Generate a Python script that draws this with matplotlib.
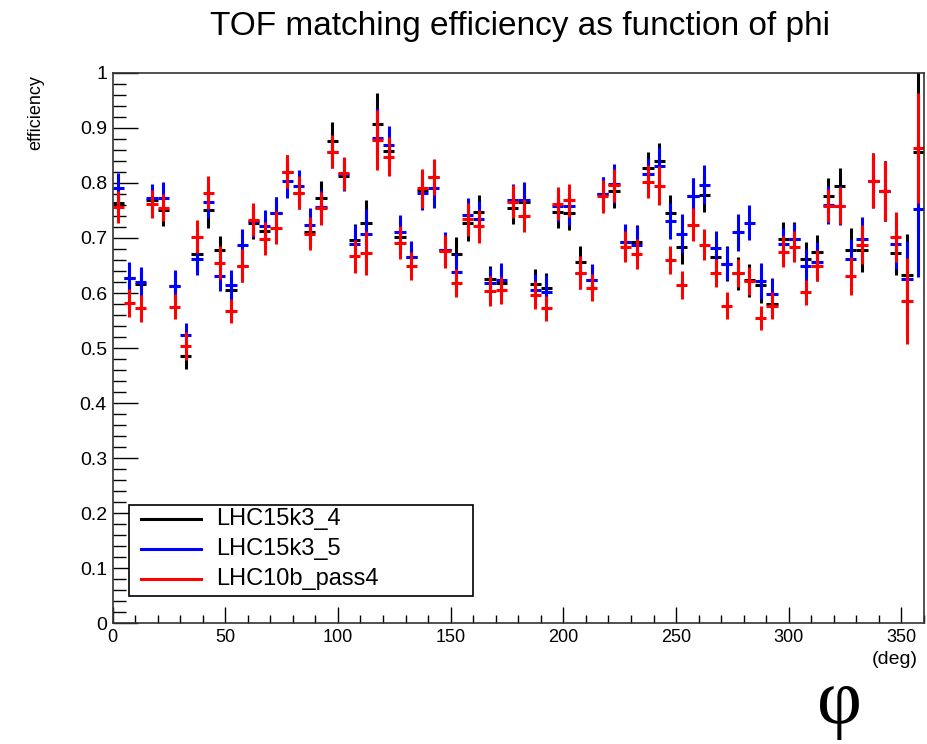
import matplotlib
matplotlib.use("Agg")
import matplotlib.pyplot as plt
import numpy as np
from matplotlib.ticker import MultipleLocator
from matplotlib.patches import Rectangle
from matplotlib.lines import Line2D

plt.rcParams['font.family'] = ['Liberation Sans', 'DejaVu Sans']

bin_edges = np.arange(0, 365, 5)
labels = ["LHC15k3_4", "LHC15k3_5", "LHC10b_pass4"]
colors = ["black", "blue", "red"]

eff_k3_4 = [0.764, 0.627, 0.616, 0.769, 0.751, 0.613, 0.485, 0.671, 0.750, 0.678,
            0.605, 0.650, 0.728, 0.713, 0.745, 0.820, 0.782, 0.711, 0.772, 0.877,
            0.813, 0.696, 0.727, 0.907, 0.859, 0.702, 0.666, 0.788, 0.811, 0.679,
            0.670, 0.727, 0.747, 0.625, 0.619, 0.755, 0.765, 0.616, 0.610, 0.748,
            0.745, 0.657, 0.624, 0.780, 0.785, 0.693, 0.693, 0.827, 0.840, 0.745,
            0.683, 0.776, 0.779, 0.665, 0.653, 0.636, 0.623, 0.615, 0.580, 0.699,
            0.699, 0.662, 0.675, 0.776, 0.794, 0.678, 0.678, 0.804, 0.785, 0.673,
            0.633, 0.856]
eff_k3_5 = [0.790, 0.627, 0.620, 0.773, 0.772, 0.613, 0.523, 0.662, 0.766, 0.631,
            0.614, 0.687, 0.731, 0.721, 0.745, 0.804, 0.794, 0.724, 0.757, 0.857,
            0.816, 0.689, 0.708, 0.882, 0.869, 0.710, 0.666, 0.781, 0.790, 0.679,
            0.639, 0.742, 0.734, 0.618, 0.624, 0.769, 0.769, 0.605, 0.602, 0.759,
            0.759, 0.637, 0.624, 0.780, 0.799, 0.693, 0.687, 0.816, 0.830, 0.731,
            0.708, 0.776, 0.797, 0.681, 0.653, 0.710, 0.728, 0.622, 0.599, 0.689,
            0.698, 0.650, 0.657, 0.760, 0.759, 0.662, 0.699, 0.804, 0.785, 0.689,
            0.625, 0.753]
eff_10b = [0.757, 0.582, 0.572, 0.762, 0.755, 0.575, 0.504, 0.702, 0.782, 0.655,
           0.568, 0.650, 0.733, 0.699, 0.719, 0.820, 0.782, 0.708, 0.754, 0.857,
           0.818, 0.667, 0.673, 0.878, 0.848, 0.691, 0.649, 0.790, 0.811, 0.676,
           0.618, 0.734, 0.721, 0.604, 0.605, 0.766, 0.740, 0.596, 0.572, 0.762,
           0.769, 0.637, 0.610, 0.776, 0.796, 0.684, 0.671, 0.802, 0.795, 0.660,
           0.615, 0.724, 0.688, 0.636, 0.577, 0.636, 0.622, 0.554, 0.577, 0.675,
           0.684, 0.601, 0.650, 0.759, 0.759, 0.631, 0.688, 0.804, 0.785, 0.702,
           0.586, 0.863]

err_k3_4 = [0.025, 0.028, 0.025, 0.020, 0.030, 0.025, 0.023, 0.030, 0.032, 0.026,
            0.025, 0.030, 0.030, 0.025, 0.030, 0.030, 0.030, 0.025, 0.032, 0.033,
            0.025, 0.030, 0.042, 0.056, 0.030, 0.030, 0.025, 0.035, 0.030, 0.030,
            0.031, 0.032, 0.032, 0.025, 0.025, 0.030, 0.030, 0.027, 0.027, 0.030,
            0.030, 0.028, 0.025, 0.030, 0.030, 0.030, 0.030, 0.030, 0.033, 0.033,
            0.030, 0.033, 0.032, 0.030, 0.032, 0.030, 0.030, 0.033, 0.025, 0.030,
            0.030, 0.030, 0.030, 0.033, 0.033, 0.040, 0.040, 0.047, 0.055, 0.040,
            0.074, 0.145]
err_k3_5 = [0.028, 0.030, 0.028, 0.025, 0.030, 0.028, 0.022, 0.030, 0.030, 0.028,
            0.027, 0.030, 0.030, 0.030, 0.030, 0.032, 0.030, 0.030, 0.030, 0.030,
            0.030, 0.035, 0.045, 0.055, 0.035, 0.032, 0.028, 0.030, 0.035, 0.032,
            0.033, 0.030, 0.033, 0.028, 0.030, 0.030, 0.033, 0.030, 0.030, 0.030,
            0.035, 0.030, 0.028, 0.030, 0.035, 0.032, 0.035, 0.030, 0.035, 0.033,
            0.035, 0.033, 0.035, 0.032, 0.030, 0.033, 0.032, 0.033, 0.028, 0.030,
            0.030, 0.030, 0.035, 0.035, 0.035, 0.037, 0.040, 0.050, 0.055, 0.045,
            0.070, 0.123]
err_10b = [0.029, 0.025, 0.025, 0.025, 0.025, 0.023, 0.025, 0.030, 0.030, 0.030,
           0.022, 0.030, 0.030, 0.030, 0.030, 0.030, 0.030, 0.030, 0.030, 0.030,
           0.030, 0.030, 0.040, 0.055, 0.035, 0.030, 0.025, 0.035, 0.033, 0.030,
           0.025, 0.030, 0.030, 0.027, 0.025, 0.030, 0.030, 0.025, 0.022, 0.030,
           0.030, 0.030, 0.025, 0.030, 0.030, 0.028, 0.028, 0.030, 0.035, 0.025,
           0.025, 0.030, 0.028, 0.025, 0.025, 0.025, 0.025, 0.022, 0.025, 0.028,
           0.028, 0.022, 0.028, 0.030, 0.033, 0.035, 0.035, 0.050, 0.055, 0.045,
           0.078, 0.100]

centers = 0.5 * (bin_edges[:-1] + bin_edges[1:])
halfw = 0.5 * np.diff(bin_edges)

fig = plt.figure(figsize=(9.27, 7.44), dpi=100)
ax = fig.add_axes([0.1214, 0.1626, 0.8754, 0.7393])

for eff, err, c, lab in zip([eff_k3_4, eff_k3_5, eff_10b],
                            [err_k3_4, err_k3_5, err_10b], colors, labels):
    ax.errorbar(centers, eff, yerr=err, xerr=halfw, fmt='none',
                ecolor=c, elinewidth=2.2, capsize=0, label=lab)

ax.set_xlim(0, 360)
ax.set_ylim(0, 1)
ax.xaxis.set_major_locator(MultipleLocator(50))
ax.xaxis.set_minor_locator(MultipleLocator(10))
ax.yaxis.set_minor_locator(MultipleLocator(0.02))
ax.set_yticks(np.arange(0, 1.01, 0.1))
ax.set_yticklabels(["0", "0.1", "0.2", "0.3", "0.4", "0.5", "0.6", "0.7", "0.8", "0.9", "1"])
ax.tick_params(which='both', direction='in', top=False, right=False, width=1.0)
ax.tick_params(axis='y', which='major', length=18, labelsize=14, pad=4)
ax.tick_params(axis='y', which='minor', length=9)
ax.tick_params(axis='x', which='major', length=11.5, labelsize=13, pad=4)
ax.tick_params(axis='x', which='minor', length=5.8)
for s in ax.spines.values():
    s.set_linewidth(1.2)
    s.set_color('#333333')

# legend box (drawn in axes coordinates)
ax.add_patch(Rectangle((0.0203, 0.0491), 0.4240, 0.1654, transform=ax.transAxes,
                       facecolor='white', edgecolor='black', linewidth=1.2, zorder=5))
for yy, c, lab in zip([0.189, 0.1345, 0.080], colors, labels):
    ax.add_line(Line2D([0.0351, 0.1091], [yy, yy], transform=ax.transAxes,
                       color=c, linewidth=2.2, zorder=6))
    ax.text(0.1275, yy, lab, transform=ax.transAxes, ha='left', va='center',
            fontsize=17, zorder=6)

fig.text(0.561, 0.953, "TOF matching efficiency as function of phi",
         ha='center', va='baseline', fontsize=24)
fig.text(0.039, 0.899, "efficiency", rotation=90, ha='center', va='top', fontsize=13)
fig.text(0.990, 0.113, "(deg)", ha='right', va='center', fontsize=14)
fig.text(0.906, 0.028, "φ", ha='center', va='baseline', fontsize=56,
         family=['Liberation Serif', 'DejaVu Serif'])

fig.savefig("out.png", dpi=100)
